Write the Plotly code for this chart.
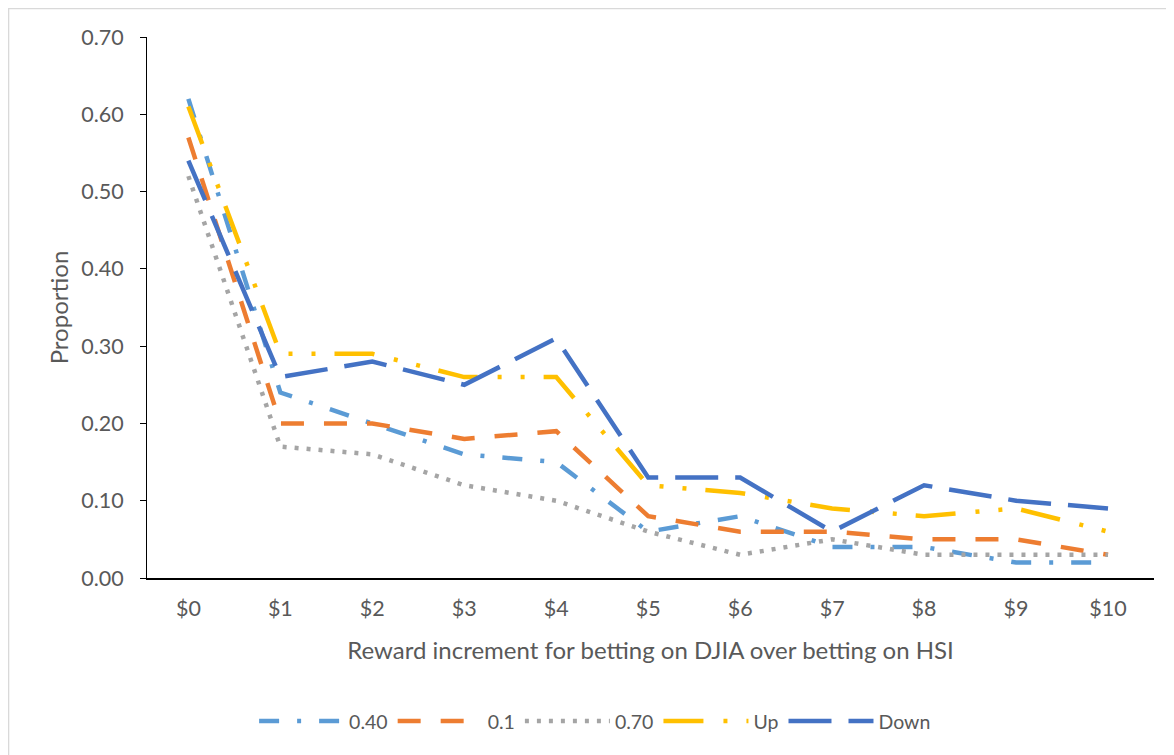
import plotly.graph_objects as go

categories = ["$0", "$1", "$2", "$3", "$4", "$5", "$6", "$7", "$8", "$9", "$10"]
s_040 = [0.62, 0.24, 0.20, 0.16, 0.15, 0.06, 0.08, 0.04, 0.04, 0.02, 0.02]
s_01 = [0.57, 0.20, 0.20, 0.18, 0.19, 0.08, 0.06, 0.06, 0.05, 0.05, 0.03]
s_070 = [0.52, 0.17, 0.16, 0.12, 0.10, 0.06, 0.03, 0.05, 0.03, 0.03, 0.03]
s_up = [0.61, 0.29, 0.29, 0.26, 0.26, 0.12, 0.11, 0.09, 0.08, 0.09, 0.06]
s_down = [0.54, 0.26, 0.28, 0.25, 0.31, 0.13, 0.13, 0.06, 0.12, 0.10, 0.09]
y_ticks = [0.0, 0.1, 0.2, 0.3, 0.4, 0.5, 0.6, 0.7]

series = [
    ("0.40", s_040, "#5B9BD5", "20px,18px,4px,18px"),
    ("0.1", s_01, "#ED7D31", "23px,20px"),
    ("0.70", s_070, "#A5A5A5", "4px,8px"),
    ("Up", s_up, "#FFC000", "40px,20px,4px,19px,4px,19px"),
    ("Down", s_down, "#4472C4", "43px,17px"),
]

FONT = "Lato"
TXT = "#595959"
fig = go.Figure()
for name, vals, color, dash in series:
    fig.add_trace(go.Scatter(
        x=categories, y=vals, name=name, mode="lines",
        line=dict(color=color, width=4.5, dash=dash),
    ))

# page body has an 8px margin, so the figure is sized/offset to compensate
fig.update_layout(
    width=1166, height=747,
    margin=dict(l=139, r=20, t=29, b=177),
    paper_bgcolor="white", plot_bgcolor="white",
    font=dict(family=FONT, color=TXT, size=18),
    showlegend=True,
    legend=dict(orientation="h", x=0.445, xanchor="center", y=-0.265, yanchor="middle",
                font=dict(size=19.5, color=TXT), itemwidth=85, traceorder="normal"),
    shapes=[dict(type="rect", xref="paper", yref="paper",
                 x0=-0.1375, y0=-0.36, x1=1.05, y1=1.0525,
                 line=dict(color="#D9D9D9", width=1.5), fillcolor="rgba(0,0,0,0)", layer="below")],
)
fig.update_xaxes(
    type="category", range=[-0.45, 10.5],
    showline=True, linecolor="#000000", linewidth=1.5,
    showgrid=False, ticks="", tickfont=dict(size=21.5, color=TXT),
    ticklabelstandoff=10,
    title=dict(text="Reward increment for betting on DJIA over betting on HSI",
               font=dict(size=24, color=TXT), standoff=23),
)
fig.update_yaxes(
    range=[0, 0.70], tickvals=y_ticks, tickformat=".2f",
    showline=True, linecolor="#000000", linewidth=1,
    ticks="outside", ticklen=6, tickcolor="#000000",
    ticklabelstandoff=12,
    showgrid=False, zeroline=False, tickfont=dict(size=21.5, color=TXT),
    title=dict(text="Proportion", font=dict(size=24, color=TXT), standoff=5),
)

fig.write_html("out.html")
